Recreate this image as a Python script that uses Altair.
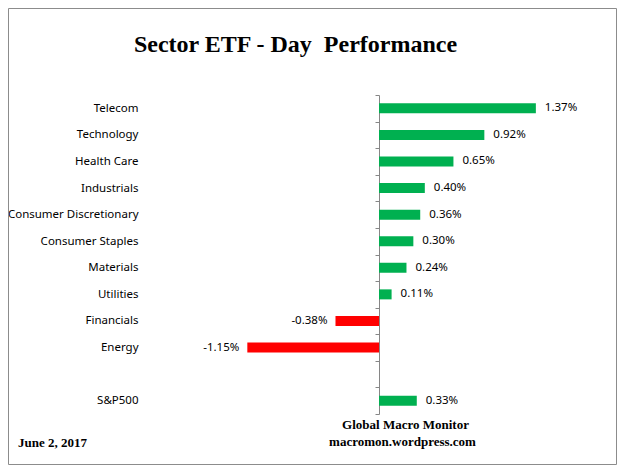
import altair as alt
import pandas as pd

sectors = ["Telecom", "Technology", "Health Care", "Industrials", "Consumer Discretionary",
           "Consumer Staples", "Materials", "Utilities", "Financials", "Energy", "S&P500"]
values = [1.37, 0.92, 0.65, 0.40, 0.36, 0.30, 0.24, 0.11, -0.38, -1.15, 0.33]
row_order = sectors[:10] + [" "] + sectors[10:]

title_text = "Sector ETF - Day\u00a0 Performance"
date_text = "June 2, 2017"
credit_1 = "Global Macro Monitor"
credit_2 = "macromon.wordpress.com"

df = pd.DataFrame({"sector": sectors, "value": values})
df["label"] = [f"{v:.2f}%" for v in values]

W, H = 458, 319
x_scale = alt.Scale(domain=[-2, 2], nice=False, zero=False)
y_scale = alt.Scale(domain=row_order, paddingInner=0, paddingOuter=0)

y_enc = alt.Y("sector:N", scale=y_scale, sort=row_order,
              axis=alt.Axis(title=None, orient="left", offset=-229, domain=True,
                            domainColor="#868686", domainWidth=1, ticks=True,
                            tickColor="#868686", tickSize=4, tickBand="extent",
                            labelPadding=237, labelFont="Noto Sans", labelFontSize=11.5,
                            labelColor="#000000", grid=False, labelLimit=300))

base = alt.Chart(df)

bars = base.mark_bar(size=10).encode(
    x=alt.X("value:Q", scale=x_scale, axis=None),
    x2=alt.datum(0),
    y=y_enc,
    color=alt.condition(alt.datum.value >= 0, alt.value("#00B050"), alt.value("#FF0000")),
)

pos_text = base.transform_filter(alt.datum.value >= 0).mark_text(
    align="left", baseline="middle", dx=9, font="Noto Sans", fontSize=11.5, color="#000000"
).encode(x=alt.X("value:Q", scale=x_scale, axis=None), y=alt.Y("sector:N", scale=y_scale, sort=row_order), text="label:N")

neg_text = base.transform_filter(alt.datum.value < 0).mark_text(
    align="right", baseline="middle", dx=-8, font="Noto Sans", fontSize=11.5, color="#000000"
).encode(x=alt.X("value:Q", scale=x_scale, axis=None), y=alt.Y("sector:N", scale=y_scale, sort=row_order), text="label:N")

ann = alt.Chart(pd.DataFrame({
    "t": [title_text, date_text, credit_1, credit_2],
    "px": [145.5, -132, 255.5, 252.5],
    "py": [-43, 352, 334, 351],
    "fs": [24, 13, 13, 13],
    "al": ["center", "left", "center", "center"],
}))

title_mark = ann.transform_filter(alt.datum.fs > 20).mark_text(
    font="Liberation Serif", fontWeight="bold", fontSize=24, align="center", baseline="alphabetic", color="#000000"
).encode(x=alt.X("px:Q", scale=None), y=alt.Y("py:Q", scale=None), text="t:N")

left_note = ann.transform_filter(alt.datum.al == "left").mark_text(
    font="Liberation Serif", fontWeight="bold", fontSize=13, align="left", baseline="alphabetic", color="#000000"
).encode(x=alt.X("px:Q", scale=None), y=alt.Y("py:Q", scale=None), text="t:N")

right_note = ann.transform_filter((alt.datum.al == "center") & (alt.datum.fs < 20)).mark_text(
    font="Liberation Serif", fontWeight="bold", fontSize=13, align="center", baseline="alphabetic", color="#000000"
).encode(x=alt.X("px:Q", scale=None), y=alt.Y("py:Q", scale=None), text="t:N")

frame = alt.Chart(pd.DataFrame({"a": [0]})).mark_rect(
    filled=False, stroke="#8c8c8c", strokeWidth=1
).encode(x=alt.value(-141.5), x2=alt.value(466.5), y=alt.value(-86.5), y2=alt.value(369.5))

chart = alt.layer(frame, bars, pos_text, neg_text, title_mark, left_note, right_note).properties(
    width=W, height=H,
    autosize=alt.AutoSizeParams(type="none"),
    padding={"left": 142, "top": 87, "right": 9, "bottom": 51},
    background="#ffffff",
).configure_view(stroke=None)

chart.save("out.html", embed_options={"renderer": "svg", "actions": False})
